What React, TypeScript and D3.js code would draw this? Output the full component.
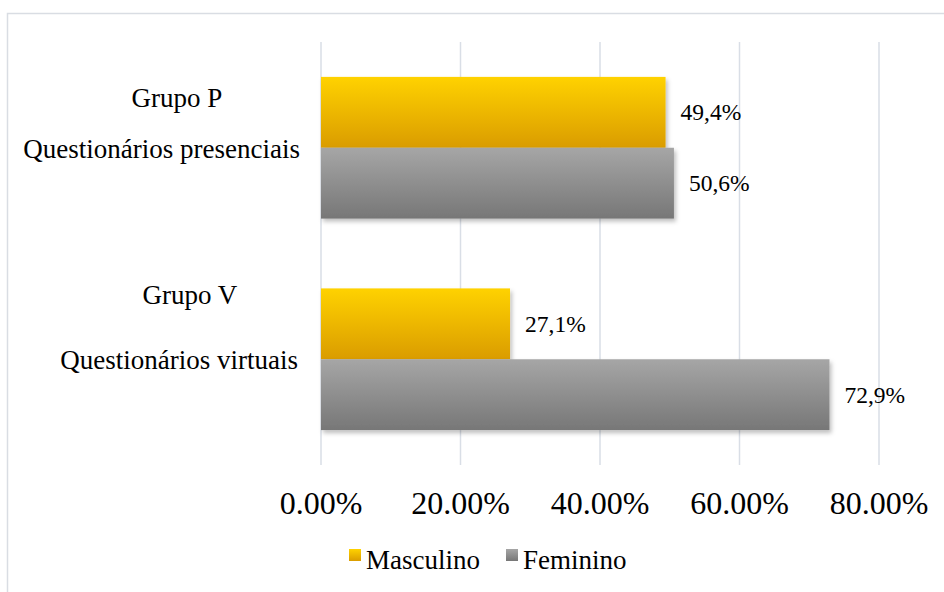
import { useEffect, useRef } from "react";
import * as d3 from "d3";

const W = 944;
const H = 592;

const groups = ["Grupo P", "Grupo V"];
const subtitles = ["Questionários presenciais", "Questionários virtuais"];
const series = ["Masculino", "Feminino"];
const masculino = [49.4, 27.1];
const feminino = [50.6, 72.9];
const valueLabels = [["49,4%", "50,6%"], ["27,1%", "72,9%"]];
const xTicks = [0, 20, 40, 60, 80];

const FONT = "'Liberation Serif', 'Times New Roman', serif";
const PLOT = { left: 321, right: 879, top: 42, bottom: 465 };

export default function App() {
  const ref = useRef<SVGSVGElement | null>(null);

  useEffect(() => {
    if (!ref.current) return;
    const svg = d3.select(ref.current);
    svg.selectAll("*").remove();

    const defs = svg.append("defs");
    const grad = (id: string, c0: string, c1: string) => {
      const g = defs.append("linearGradient").attr("id", id)
        .attr("x1", 0).attr("x2", 0).attr("y1", 0).attr("y2", 1);
      g.append("stop").attr("offset", "0%").attr("stop-color", c0);
      g.append("stop").attr("offset", "100%").attr("stop-color", c1);
    };
    grad("gMasc", "#FFD200", "#DA9C00");
    grad("gFem", "#A6A6A6", "#777777");
    const f = defs.append("filter").attr("id", "shadow")
      .attr("x", "-5%").attr("y", "-5%").attr("width", "115%").attr("height", "125%");
    f.append("feDropShadow").attr("dx", 2).attr("dy", 3).attr("stdDeviation", 2)
      .attr("flood-color", "#000").attr("flood-opacity", 0.25);

    // chart frame
    svg.append("rect").attr("x", 7.5).attr("y", 13.5)
      .attr("width", W).attr("height", H)
      .attr("fill", "#fff").attr("stroke", "#D9DDE3").attr("stroke-width", 1.5);

    const x = d3.scaleLinear().domain([0, 80]).range([PLOT.left, PLOT.right]);
    const y0 = d3.scaleBand().domain(groups).range([PLOT.top, PLOT.bottom]).paddingInner(0.33).paddingOuter(0.165);
    const y1 = d3.scaleBand().domain(series).range([0, y0.bandwidth()]);

    // gridlines
    svg.append("g").selectAll("line").data(xTicks).join("line")
      .attr("x1", d => x(d)).attr("x2", d => x(d))
      .attr("y1", PLOT.top).attr("y2", PLOT.bottom)
      .attr("stroke", "#D9DEE6").attr("stroke-width", 1.5);

    const vals = [masculino, feminino];
    const fills = ["url(#gMasc)", "url(#gFem)"];

    const g = svg.append("g");
    groups.forEach((grp, gi) => {
      series.forEach((s, si) => {
        const yy = (y0(grp) ?? 0) + (y1(s) ?? 0);
        const v = vals[si][gi];
        g.append("rect")
          .attr("x", x(0)).attr("y", yy)
          .attr("width", x(v) - x(0)).attr("height", y1.bandwidth())
          .attr("fill", fills[si]).attr("filter", "url(#shadow)");
      });
    });

    // data labels
    groups.forEach((grp, gi) => {
      series.forEach((s, si) => {
        const yy = (y0(grp) ?? 0) + (y1(s) ?? 0) + y1.bandwidth() / 2;
        const v = vals[si][gi];
        svg.append("text")
          .attr("x", x(v) + 15).attr("y", yy + 8)
          .attr("font-family", FONT).attr("font-size", 23.5).attr("fill", "#000")
          .text(valueLabels[gi][si]);
      });
    });

    // category labels
    const grpX = [177, 190];
    const grpDy = [30, 16];
    groups.forEach((grp, gi) => {
      const top = y0(grp) ?? 0;
      svg.append("text")
        .attr("x", grpX[gi]).attr("y", top + grpDy[gi])
        .attr("text-anchor", "middle")
        .attr("font-family", FONT).attr("font-size", 27).attr("fill", "#000")
        .text(grp);
      svg.append("text")
        .attr("x", 300 - gi * 2).attr("y", top + 81)
        .attr("text-anchor", "end")
        .attr("font-family", FONT).attr("font-size", 27).attr("fill", "#000")
        .text(subtitles[gi]);
    });

    // x axis tick labels
    svg.append("g").selectAll("text").data(xTicks).join("text")
      .attr("x", d => x(d)).attr("y", 514)
      .attr("text-anchor", "middle")
      .attr("font-family", FONT).attr("font-size", 32).attr("fill", "#000")
      .text(d => d3.format(".2f")(d) + "%");

    // legend
    const legend = [
      { name: series[0], fill: fills[0], x: 349 },
      { name: series[1], fill: fills[1], x: 506 },
    ];
    const lg = svg.append("g");
    legend.forEach(l => {
      lg.append("rect").attr("x", l.x).attr("y", 549).attr("width", 12).attr("height", 12).attr("fill", l.fill);
      lg.append("text").attr("x", l.x + 17).attr("y", 569)
        .attr("font-family", FONT).attr("font-size", 27).attr("fill", "#000")
        .text(l.name);
    });
  }, []);

  return (
    <svg ref={ref} width={W} height={H}
      style={{ position: "absolute", left: 0, top: 0, display: "block", background: "#fff" }} />
  );
}
